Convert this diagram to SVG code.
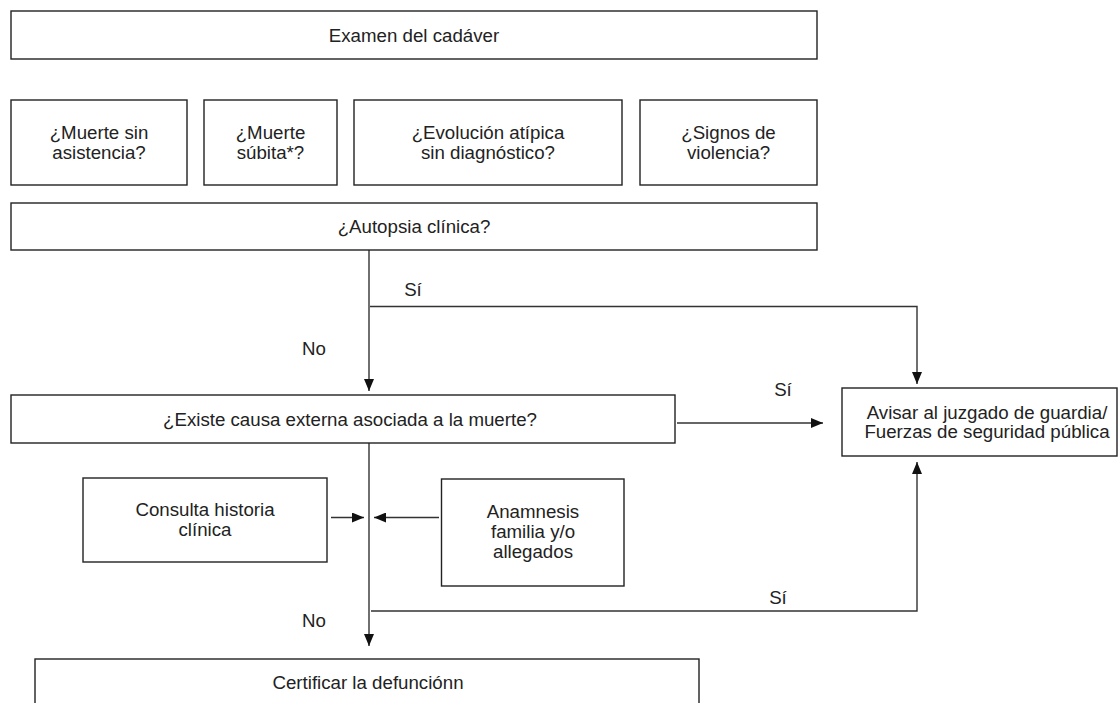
<svg xmlns="http://www.w3.org/2000/svg" width="1120" height="703" viewBox="0 0 1120 703">
<style>
  .box { fill: #fff; stroke: #222; stroke-width: 1.4; }
  .t { font-family: "Liberation Sans", Arial, sans-serif; font-size: 18.7px; fill: #222; text-anchor: middle; }
  .ln { fill: none; stroke: #333; stroke-width: 1.4; }
</style>
<defs>
  <marker id="ah" viewBox="0 0 12 10" refX="12" refY="5" markerWidth="12" markerHeight="10" markerUnits="userSpaceOnUse" orient="auto">
    <path d="M0,0 L12,5 L0,10 Z" fill="#111"/>
  </marker>
</defs>
<rect width="1120" height="703" fill="#fff"/>

<g id="connectors">
  <line class="ln" x1="369" y1="250" x2="369" y2="391" marker-end="url(#ah)"/>
  <polyline class="ln" points="370,306.5 917,306.5 917,384" marker-end="url(#ah)"/>
  <line class="ln" x1="677" y1="423" x2="823" y2="423" marker-end="url(#ah)"/>
  <line class="ln" x1="369" y1="443" x2="369" y2="646" marker-end="url(#ah)"/>
  <line class="ln" x1="331" y1="517.5" x2="364" y2="517.5" marker-end="url(#ah)"/>
  <line class="ln" x1="439" y1="517.5" x2="374" y2="517.5" marker-end="url(#ah)"/>
  <polyline class="ln" points="371,611 917,611 917,462" marker-end="url(#ah)"/>
  <text class="t" x="413" y="295.5">Sí</text>
  <text class="t" x="314" y="354.5">No</text>
  <text class="t" x="783" y="395.5">Sí</text>
  <text class="t" x="778" y="603.5">Sí</text>
  <text class="t" x="314" y="626.5">No</text>
</g>

<g id="examen">
  <rect class="box" x="11" y="11" width="806" height="48"/>
  <text class="t" x="414" y="41.5">Examen del cadáver</text>
</g>
<g id="muerte-sin-asistencia">
  <rect class="box" x="11" y="100" width="176" height="85"/>
  <text class="t" x="99" y="139">¿Muerte sin</text>
  <text class="t" x="99" y="159">asistencia?</text>
</g>
<g id="muerte-subita">
  <rect class="box" x="204" y="100" width="133" height="85"/>
  <text class="t" x="270.5" y="139">¿Muerte</text>
  <text class="t" x="270.5" y="159">súbita*?</text>
</g>
<g id="evolucion-atipica">
  <rect class="box" x="354" y="100" width="268" height="85"/>
  <text class="t" x="488" y="139">¿Evolución atípica</text>
  <text class="t" x="488" y="159">sin diagnóstico?</text>
</g>
<g id="signos-violencia">
  <rect class="box" x="640" y="100" width="177" height="85"/>
  <text class="t" x="728.5" y="139">¿Signos de</text>
  <text class="t" x="728.5" y="159">violencia?</text>
</g>
<g id="autopsia">
  <rect class="box" x="11" y="203" width="806" height="47"/>
  <text class="t" x="414" y="233">¿Autopsia clínica?</text>
</g>
<g id="causa-externa">
  <rect class="box" x="11" y="395" width="664" height="48"/>
  <text class="t" x="350" y="425.5">¿Existe causa externa asociada a la muerte?</text>
</g>
<g id="avisar">
  <rect class="box" x="842" y="388" width="275" height="68"/>
  <text class="t" x="987" y="419">Avisar al juzgado de guardia/</text>
  <text class="t" x="987" y="438">Fuerzas de seguridad pública</text>
</g>
<g id="consulta">
  <rect class="box" x="83" y="478" width="244" height="84"/>
  <text class="t" x="205" y="516">Consulta historia</text>
  <text class="t" x="205" y="536">clínica</text>
</g>
<g id="anamnesis">
  <rect class="box" x="441.5" y="479" width="182.5" height="107"/>
  <text class="t" x="533" y="518">Anamnesis</text>
  <text class="t" x="533" y="538">familia y/o</text>
  <text class="t" x="533" y="558">allegados</text>
</g>
<g id="certificar">
  <rect class="box" x="35" y="659" width="664" height="60"/>
  <text class="t" x="368" y="688.5">Certificar la defunciónn</text>
</g>
</svg>
